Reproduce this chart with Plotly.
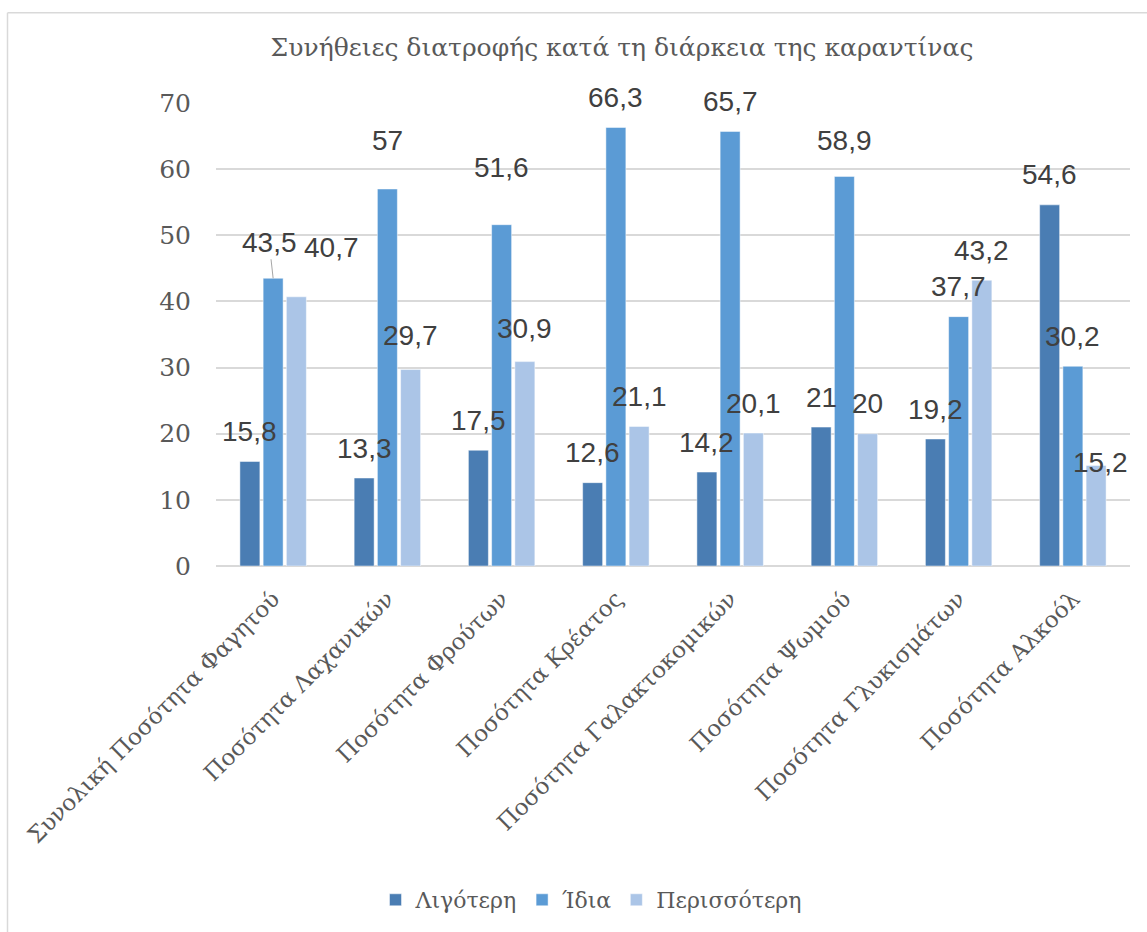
import plotly.graph_objects as go

categories = ["Συνολική Ποσότητα Φαγητού", "Ποσότητα Λαχανικών", "Ποσότητα Φρούτων",
              "Ποσότητα Κρέατος", "Ποσότητα Γαλακτοκομικών", "Ποσότητα Ψωμιού",
              "Ποσότητα Γλυκισμάτων", "Ποσότητα Αλκοόλ"]
series_names = ["Λιγότερη", "Ίδια", "Περισσότερη"]
less = [15.8, 13.3, 17.5, 12.6, 14.2, 21, 19.2, 54.6]
same = [43.5, 57, 51.6, 66.3, 65.7, 58.9, 37.7, 30.2]
more = [40.7, 29.7, 30.9, 21.1, 20.1, 20, 43.2, 15.2]
y_ticks = [0, 10, 20, 30, 40, 50, 60, 70]
title_text = "Συνήθειες διατροφής κατά τη διάρκεια της καραντίνας"

colors = ["#4a7db3", "#5b9bd5", "#abc5e7"]
series = [less, same, more]

# label placement tweaks (pixel shifts, negative = upwards), styling only
default_dy = -30
label_tweaks = {
    (0, 1): (0, -36),
    (0, 2): (35, -49),
    (1, 1): (0, -48),
    (1, 2): (0, -34),
    (2, 1): (0, -57),
    (2, 2): (0, -33),
    (5, 1): (0, -36),
    (7, 2): (4, -3),
}
leader_lines = {(0, 1)}

BARGAP = 0.39
BARGROUPGAP = 0.14

fig = go.Figure()
for name, vals, col in zip(series_names, series, colors):
    fig.add_trace(go.Bar(
        x=categories, y=vals, name=name,
        marker=dict(color=col, line=dict(color="rgba(255,255,255,0.6)", width=0.8)),
    ))

slot = (1 - BARGAP) / 3
label_font = dict(family="Liberation Sans", size=28, color="#404040")
for k, vals in enumerate(series):
    for i, v in enumerate(vals):
        xpos = i + (k - 1) * slot
        dx, dy = label_tweaks.get((i, k), (0, default_dy))
        txt = f"{v:g}".replace(".", ",")
        if (i, k) in leader_lines:
            fig.add_annotation(x=xpos, y=v, xref="x", yref="y", text=txt,
                               showarrow=True, arrowhead=0, arrowwidth=1,
                               arrowcolor="#a6a6a6", ax=dx - 4, ay=dy,
                               font=label_font)
        else:
            fig.add_annotation(x=xpos, y=v, xref="x", yref="y", text=txt,
                               showarrow=False, xshift=dx, yshift=-dy,
                               font=label_font)

L, R, T, B = 216, 17, 103, 365
W, H = 1147, 932
pw, ph = W - L - R, H - T - B

def px_to_paper_x(px):
    return (px - L) / pw

def px_to_paper_y(py):
    return (H - B - py) / ph

border = "#d9d9d9"
fig.add_shape(type="line", xref="paper", yref="paper",
              x0=px_to_paper_x(7.5), x1=px_to_paper_x(1160),
              y0=px_to_paper_y(12.5), y1=px_to_paper_y(12.5),
              line=dict(color=border, width=1.5))
fig.add_shape(type="line", xref="paper", yref="paper",
              x0=px_to_paper_x(7.5), x1=px_to_paper_x(7.5),
              y0=px_to_paper_y(12.5), y1=px_to_paper_y(950),
              line=dict(color=border, width=1.5))

serif = "DejaVu Serif"
fig.update_layout(
    width=W, height=H,
    margin=dict(l=L, r=R, t=T, b=B, pad=0),
    paper_bgcolor="white", plot_bgcolor="white",
    barmode="group", bargap=BARGAP, bargroupgap=BARGROUPGAP,
    title=dict(text=title_text, x=622 / W, xanchor="center",
               y=1 - 47 / H, yanchor="middle", yref="container",
               font=dict(family=serif, size=25, color="#595959")),
    xaxis=dict(type="category", tickangle=-45, showgrid=False, showline=False,
               ticks="", tickfont=dict(family=serif, size=23, color="#595959"),
               ticklabelstandoff=14),
    yaxis=dict(range=[0, 70], tickvals=y_ticks, showgrid=True, gridcolor="#d9d9d9",
               gridwidth=1.5, zeroline=True, zerolinecolor="#d9d9d9", zerolinewidth=1.5,
               showline=False, ticks="",
               tickfont=dict(family=serif, size=25, color="#595959"),
               ticklabelstandoff=24),
    legend=dict(orientation="h", x=px_to_paper_x(591), xanchor="center",
                y=px_to_paper_y(900), yanchor="middle",
                font=dict(family=serif, size=22, color="#595959"),
                itemwidth=30, traceorder="normal"),
    showlegend=True,
)

fig.write_html("out.html")
